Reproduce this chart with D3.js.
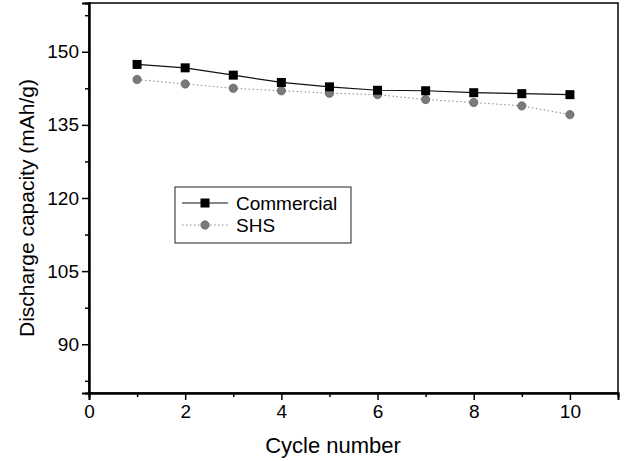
<!DOCTYPE html>
<html>
<head>
<meta charset="utf-8">
<script src="https://cdn.jsdelivr.net/npm/d3@7"></script>
<style>
  body { margin: 0; background: #fff; }
  text { font-family: "Liberation Sans", Arial, sans-serif; fill: #000; }
</style>
</head>
<body>
<script>
// data
const cycles = [1, 2, 3, 4, 5, 6, 7, 8, 9, 10];
const commercial = [147.4, 146.7, 145.2, 143.7, 142.8, 142.1, 142.0, 141.6, 141.4, 141.2];
const shs = [144.3, 143.4, 142.5, 142.0, 141.5, 141.2, 140.2, 139.6, 138.9, 137.1];
const xTicks = [0, 2, 4, 6, 8, 10];
const yTicks = [90, 105, 120, 135, 150];

const MARGIN = { TOP: 3, LEFT: 89, RIGHT: 6, BOTTOM: 68 };
const W = 624, H = 461;

const svg = d3.select("body").append("svg")
    .attr("width", W)
    .attr("height", H);

const x = d3.scaleLinear().domain([0, 11]).range([MARGIN.LEFT, W - MARGIN.RIGHT]);
const y = d3.scaleLinear().domain([80, 160]).range([H - MARGIN.BOTTOM, MARGIN.TOP]);

// frame
svg.append("rect")
    .attr("x", x(0)).attr("y", y(160))
    .attr("width", x(11) - x(0)).attr("height", y(80) - y(160))
    .attr("fill", "none").attr("stroke", "#000").attr("stroke-width", 1.5);

// axes
svg.append("g")
    .attr("transform", `translate(0,${y(80)})`)
    .call(d3.axisBottom(x).tickValues(xTicks).tickSize(7).tickPadding(5).tickFormat(d3.format("d")));
svg.append("g")
    .attr("transform", `translate(0,${y(80)})`)
    .call(d3.axisBottom(x).tickValues(d3.range(1, 11, 2)).tickSize(4).tickFormat(""));

svg.append("g")
    .attr("transform", `translate(${x(0)},0)`)
    .call(d3.axisLeft(y).tickValues(yTicks).tickSize(7).tickPadding(3));
svg.append("g")
    .attr("transform", `translate(${x(0)},0)`)
    .call(d3.axisLeft(y).tickValues(d3.range(82.5, 160, 15)).tickSize(4).tickFormat(""));

svg.selectAll(".domain").attr("stroke-width", 2);
svg.selectAll(".tick line").attr("stroke-width", 1.5);
svg.selectAll(".tick text").style("font-size", "19px");

// axis titles
svg.append("text")
    .attr("x", 333).attr("y", 453)
    .attr("text-anchor", "middle")
    .style("font-size", "22px")
    .text("Cycle number");

svg.append("text")
    .attr("transform", `translate(34,208) rotate(-90)`)
    .attr("text-anchor", "middle")
    .style("font-size", "21px")
    .text("Discharge capacity (mAh/g)");

// lines
const line = d3.line().x(d => x(d[0])).y(d => y(d[1]));
const comData = cycles.map((c, i) => [c, commercial[i]]);
const shsData = cycles.map((c, i) => [c, shs[i]]);

svg.append("path")
    .datum(shsData)
    .attr("d", line)
    .attr("fill", "none")
    .attr("stroke", "#888")
    .attr("stroke-width", 1)
    .attr("stroke-dasharray", "1.5,2.5");

svg.append("path")
    .datum(comData)
    .attr("d", line)
    .attr("fill", "none")
    .attr("stroke", "#111")
    .attr("stroke-width", 1.2);

svg.append("g").selectAll("circle")
    .data(shsData)
    .enter().append("circle")
    .attr("cx", d => x(d[0]))
    .attr("cy", d => y(d[1]))
    .attr("r", 4.2)
    .attr("fill", "#7a7a7a")
    .attr("stroke", "#555")
    .attr("stroke-width", 0.6);

svg.append("g").selectAll("rect")
    .data(comData)
    .enter().append("rect")
    .attr("x", d => x(d[0]) - 4.5)
    .attr("y", d => y(d[1]) - 4.5)
    .attr("width", 9)
    .attr("height", 9)
    .attr("fill", "#000");

// legend
const legend = svg.append("g");
legend.append("rect")
    .attr("x", 175).attr("y", 187)
    .attr("width", 176).attr("height", 56)
    .attr("fill", "#fff").attr("stroke", "#222").attr("stroke-width", 1);

const rows = [
    { name: "Commercial", yy: 203, dash: null, color: "#111" },
    { name: "SHS", yy: 225, dash: "1.5,2.5", color: "#888" },
];
rows.forEach((r, i) => {
    legend.append("line")
        .attr("x1", 182).attr("x2", 228)
        .attr("y1", r.yy).attr("y2", r.yy)
        .attr("stroke", r.color)
        .attr("stroke-width", i === 0 ? 1.2 : 1)
        .attr("stroke-dasharray", r.dash);
    if (i === 0) {
        legend.append("rect")
            .attr("x", 205 - 4.5).attr("y", r.yy - 4.5)
            .attr("width", 9).attr("height", 9)
            .attr("fill", "#000");
    } else {
        legend.append("circle")
            .attr("cx", 205).attr("cy", r.yy).attr("r", 4.2)
            .attr("fill", "#7a7a7a").attr("stroke", "#555").attr("stroke-width", 0.6);
    }
    legend.append("text")
        .attr("x", 236).attr("y", r.yy + 7)
        .style("font-size", "19px")
        .text(r.name);
});
</script>
</body>
</html>
